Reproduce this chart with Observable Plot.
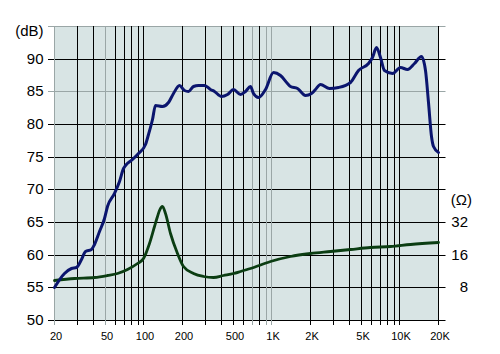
<!DOCTYPE html>
<html><head><meta charset="utf-8">
<script src="https://cdn.jsdelivr.net/npm/d3@7"></script>
<script src="https://cdn.jsdelivr.net/npm/@observablehq/plot@0.6"></script>
<style>body{margin:0;background:#fff} svg{display:block}</style>
</head><body><div id="chart"></div>
<script>
// Frequency response (SPL, dB)
const freqDb = [20,23.9,27,29.7,32.3,35.2,38.9,41.1,44.9,49.2,51.9,58.9,64.4,69.6,71.7,80.9,91.1,102.8,109.1,116,123,138.8,156.3,171,187.8,207.4,222.8,245.2,268.2,297,331,355.6,403,447,503,568,621,680,721,789,890,1034,1166,1322,1396,1574,1828,2036,2188,2394,2816,3328,4108,4768,5710,6102,6498,7046,7572,8696,10098,11386,12988,14676,15832,16804,17540,18378,20000];
const spl = [55.1,57.2,58.0,58.1,59.3,60.6,60.8,61.6,63.6,65.6,67.4,69.5,71.2,73.3,73.8,74.6,75.6,76.9,78.4,80.7,82.9,82.8,83.3,84.8,86.0,85.2,85.0,85.8,86.0,86.0,85.4,85.0,84.3,84.6,85.4,84.6,85.0,85.8,84.8,84.1,85.3,87.9,87.5,86.2,85.8,85.5,84.5,84.7,85.3,86.1,85.5,85.6,86.5,88.3,89.4,90.3,91.8,90.2,88.3,87.8,88.8,88.4,89.3,90.4,88.3,83.3,78.1,76.6,75.7];
// Impedance (Ohm)
const freqZ = [20,28.7,41.1,52.2,62.4,74.8,89.5,99.2,110.5,120.9,126.9,132.2,138.8,147.3,161.2,181.8,204.7,245.2,293.5,351.3,420.4,503,568,680,974,1396,2000,2865,4108,5887,8433,12086,20000];
const ohms = [9.3,9.8,10.0,10.3,10.9,11.9,13.5,14.9,20.6,29.2,36.1,41.7,44.7,38.9,25.4,16.6,12.7,10.9,10.1,10.0,10.3,10.9,11.3,12.1,13.9,15.7,16.6,17.2,18.1,18.7,19.4,20.1,20.8];
// Axes
const xGrid = [20,30,40,50,60,70,80,90,100,200,300,400,500,600,700,800,900,1000,2000,3000,4000,5000,6000,7000,8000,9000,10000,20000];
const xLabels = [20,50,100,200,500,1000,2000,5000,10000,20000];
const dbTicks = [50,55,60,65,70,75,80,85,90,95];
const ohmTicks = [8,16,32];

const toDb = o => 40 + 5 * Math.log2(o);
const fromDb = d => Math.round(2 ** ((d - 40) / 5));
const fmtHz = f => f >= 1000 ? (f / 1000) + "K" : String(f);
const splData = freqDb.map((f, i) => ({f, v: spl[i]}));
const zData = freqZ.map((f, i) => ({f, v: toDb(ohms[i])}));
const softX = new Set([20, 50, 700, 900, 1000]);
const softY = new Set([85, 95]);
const font = "'Liberation Sans', Arial, sans-serif";

const chart = Plot.plot({
  width: 500, height: 354,
  marginLeft: 54, marginRight: 62, marginTop: 26, marginBottom: 34,
  style: {fontFamily: font, background: "#fff", color: "#000"},
  x: {type: "log", domain: [20, 20000], label: null, round: true, axis: null},
  y: {domain: [50, 95], label: null, round: true},
  marks: [
    Plot.frame({fill: "#d8e4e4", stroke: null}),
    Plot.ruleY(dbTicks, {stroke: d => softY.has(d) ? "#9aa6a6" : "#000", insetLeft: -6, insetRight: -7.5}),
    Plot.ruleX(xGrid, {stroke: d => softX.has(d) ? "#9aa6a6" : "#000", insetBottom: -5}),
    Plot.line(zData, {x: "f", y: "v", stroke: "#0b3d12", strokeWidth: 2.8, curve: "monotone-x"}),
    Plot.line(splData, {x: "f", y: "v", stroke: "#0b156e", strokeWidth: 3, curve: "monotone-x"}),
    Plot.text(xLabels, {x: d => d, frameAnchor: "bottom", lineAnchor: "top", dy: 12, dx: 1.5, text: fmtHz, fontSize: 11, fontFamily: font}),
    Plot.axisY(dbTicks.filter(d => d < 95), {anchor: "left", tickSize: 0, tickPadding: 11, fontSize: 15, label: null}),
    Plot.text(["(dB)"], {x: () => 20, y: () => 95, dx: -11, dy: 4.5, textAnchor: "end", fontSize: 15, fontFamily: font}),
    Plot.axisY(ohmTicks.map(toDb), {anchor: "right", tickSize: 0, tickPadding: 29.5, textAnchor: "end", tickFormat: fromDb, fontSize: 15, label: null}),
    Plot.text(["(Ω)"], {x: () => 20000, y: () => toDb(32), dx: 33.5, dy: -22, textAnchor: "end", fontSize: 15, fontFamily: font})
  ]
});
document.getElementById("chart").append(chart);
</script>
</body></html>
